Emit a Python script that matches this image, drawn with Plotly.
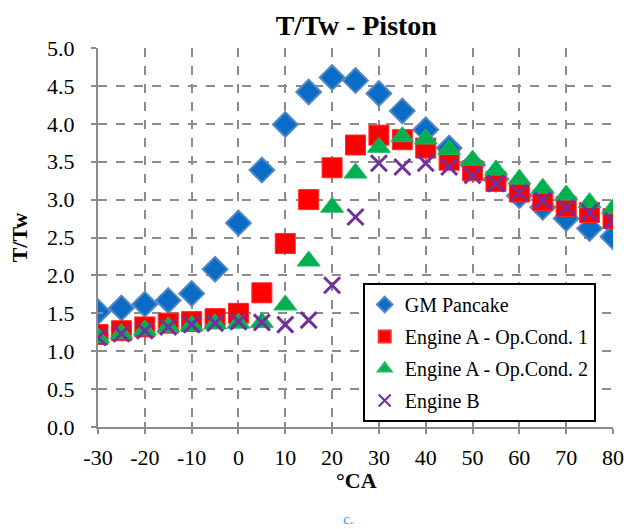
import plotly.graph_objects as go

ca = [-30, -25, -20, -15, -10, -5, 0, 5, 10, 15, 20, 25, 30, 35, 40, 45, 50, 55, 60, 65, 70, 75, 80]
gm_pancake = [1.52, 1.57, 1.62, 1.67, 1.76, 2.08, 2.69, 3.39, 3.99, 4.42, 4.61, 4.57, 4.40, 4.17, 3.92,
              3.68, 3.46, 3.27, 3.05, 2.90, 2.75, 2.62, 2.51]
engine_a1 = [1.22, 1.27, 1.32, 1.37, 1.39, 1.43, 1.50, 1.77, 2.42, 3.00, 3.42, 3.72, 3.85, 3.79, 3.68,
             3.52, 3.38, 3.24, 3.10, 2.99, 2.91, 2.83, 2.75]
engine_a2 = [1.18, 1.23, 1.28, 1.32, 1.34, 1.36, 1.37, 1.38, 1.61, 2.19, 2.90, 3.35, 3.69, 3.83, 3.80,
             3.66, 3.52, 3.39, 3.27, 3.15, 3.06, 2.96, 2.88]
engine_b = [1.18, 1.23, 1.27, 1.32, 1.35, 1.37, 1.39, 1.38, 1.35, 1.41, 1.87, 2.77, 3.48, 3.43, 3.48,
            3.43, 3.32, 3.21, 3.09, 2.99, 2.89, 2.83, 2.72]
series_names = ["GM Pancake", "Engine A - Op.Cond. 1", "Engine A - Op.Cond. 2", "Engine B"]

x_ticks = [-30, -20, -10, 0, 10, 20, 30, 40, 50, 60, 70, 80]
y_ticks = [0.0, 0.5, 1.0, 1.5, 2.0, 2.5, 3.0, 3.5, 4.0, 4.5, 5.0]

FONT = "Liberation Serif"
GRID = "#8c8c8c"


def lname(s):
    return f"<span style='font-family:\"Liberation Serif\", serif'>{s}</span>"


fig = go.Figure()
fig.add_trace(go.Scatter(x=ca, y=gm_pancake, mode="markers", name=lname(series_names[0]), legendgroup="g1",
                         marker=dict(symbol="diamond", size=19, color="#0A6CC4",
                                     line=dict(color="#4F86C6", width=2))))
fig.add_trace(go.Scatter(x=ca, y=engine_a1, mode="markers", name=lname(series_names[1]), legendgroup="g2",
                         marker=dict(symbol="square", size=20, color="#FF0000",
                                     line=dict(color="#FF2A2A", width=1))))
fig.add_trace(go.Scatter(x=ca, y=engine_a2, mode="markers", name=lname(series_names[2]), legendgroup="g3",
                         marker=dict(symbol="triangle-up", size=20, color="#00B050",
                                     line=dict(color="#22B866", width=1))))
fig.add_trace(go.Scatter(x=ca, y=engine_b, mode="markers", name=lname(series_names[3]), legendgroup="g4",
                         marker=dict(symbol="x-thin", size=16, color="#7030A0",
                                     line=dict(color="#7030A0", width=3))))

# invisible helper trace for overlay axes (cross ticks)
fig.add_trace(go.Scatter(x=[ca[0]], y=[gm_pancake[0]], xaxis="x2", yaxis="y2",
                         mode="markers", marker=dict(opacity=0), showlegend=False,
                         hoverinfo="skip"))

tickfont = dict(family=FONT, size=22, color="#000000")

fig.update_layout(
    width=624, height=529,
    margin=dict(l=98, r=11, t=48, b=102),
    font=dict(family=FONT, color="#000000"),
    paper_bgcolor="white", plot_bgcolor="white",
    title=dict(text="<b>T/Tw - Piston</b>", x=0.571, xanchor="center", y=0.953, yanchor="middle",
               font=dict(family=FONT, size=28, color="#000000")),
    xaxis=dict(range=[-30, 80], tickvals=x_ticks, ticktext=[str(v) for v in x_ticks],
               showgrid=True, gridcolor=GRID, gridwidth=2, griddash="dash",
               showline=True, linecolor=GRID, linewidth=2,
               ticks="outside", ticklen=5, tickwidth=2, tickcolor=GRID,
               ticklabelstandoff=5, automargin=False,
               tickfont=tickfont, zeroline=False),
    yaxis=dict(range=[0, 5], tickvals=y_ticks, ticktext=[f"{v:.1f}" for v in y_ticks],
               showgrid=True, gridcolor=GRID, gridwidth=2, griddash="dash",
               showline=True, linecolor=GRID, linewidth=2,
               ticks="outside", ticklen=5, tickwidth=2, tickcolor=GRID,
               ticklabelstandoff=12, automargin=False,
               tickfont=tickfont, zeroline=False,
               title=dict(text="<b>T/Tw</b>", font=dict(family=FONT, size=22, color="#000000"),
                          standoff=13)),
    xaxis2=dict(overlaying="x", matches="x", side="bottom", range=[-30, 80], tickvals=x_ticks,
                showticklabels=False, showgrid=False, zeroline=False, showline=False,
                ticks="inside", ticklen=5, tickwidth=2, tickcolor=GRID),
    yaxis2=dict(overlaying="y", matches="y", side="left", range=[0, 5], tickvals=y_ticks,
                showticklabels=False, showgrid=False, zeroline=False, showline=False,
                ticks="inside", ticklen=5, tickwidth=2, tickcolor=GRID),
    legend=dict(x=0.514, y=0.38, xanchor="left", yanchor="top",
                bgcolor="white", bordercolor="#000000", borderwidth=2,
                font=dict(family=FONT, size=20, color="#000000"),
                itemsizing="constant", tracegroupgap=3),
    showlegend=True,
    annotations=[
        dict(text="<b>°CA</b>", xref="paper", yref="paper",
             x=(356 - 98) / 515, y=-(480 - 427) / 379,
             xanchor="center", yanchor="middle", showarrow=False,
             font=dict(family=FONT, size=22, color="#000000")),
        dict(text="c.", xref="paper", yref="paper",
             x=(348 - 98) / 515, y=-(519 - 427) / 379,
             xanchor="center", yanchor="middle", showarrow=False,
             font=dict(family=FONT, size=15, color="#00B0F0")),
    ],
)

fig.write_html("out.html")
